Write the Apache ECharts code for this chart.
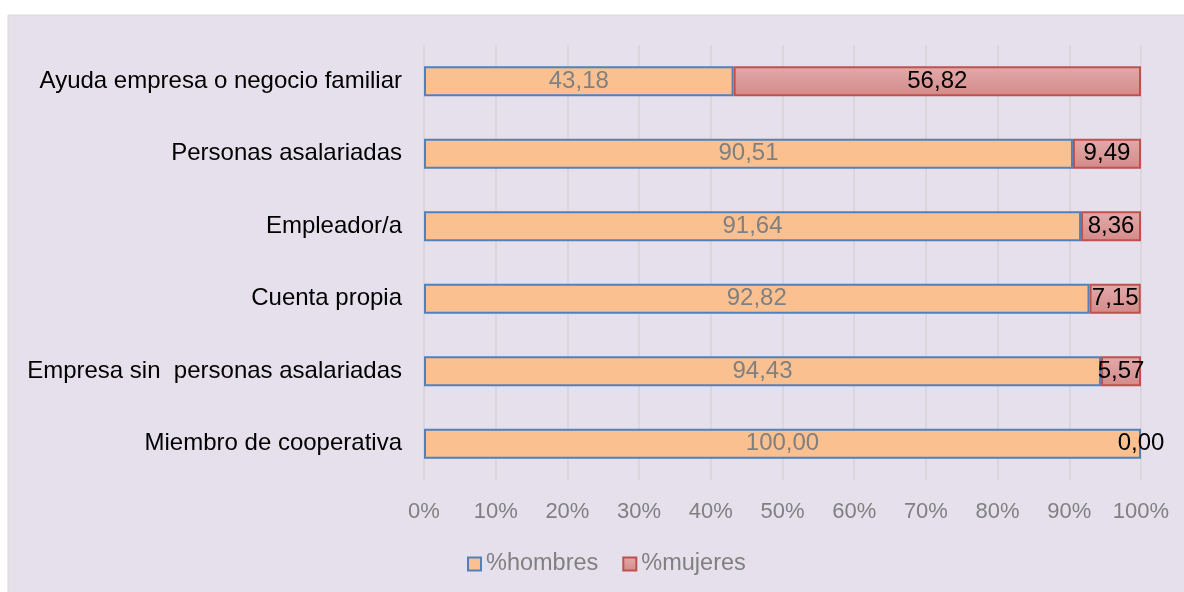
<!DOCTYPE html>
<html>
<head>
<meta charset="utf-8">
<script src="https://cdn.jsdelivr.net/npm/echarts@6/dist/echarts.min.js"></script>
<style>
  html, body { margin: 0; padding: 0; background: #ffffff; }
  #main { width: 1184px; height: 592px; }
</style>
</head>
<body>
<div id="main"></div>
<script>
// categorias, de arriba a abajo
var categorias = [
  'Ayuda empresa o negocio familiar',
  'Personas asalariadas',
  'Empleador/a',
  'Cuenta propia',
  'Empresa sin  personas asalariadas',
  'Miembro de cooperativa'
];
var hombres = [43.18, 90.51, 91.64, 92.82, 94.43, 100.00];
var mujeres = [56.82, 9.49, 8.36, 7.15, 5.57, 0.00];
var ticks = [0, 10, 20, 30, 40, 50, 60, 70, 80, 90, 100];

var myChart = echarts.init(document.getElementById('main'));

function coma(p) {
  return p.value.toFixed(2).replace('.', ',');
}

// barras de valor 0 sin borde
function sinBorde(arr) {
  return arr.map(function (v) {
    return v === 0 ? { value: v, itemStyle: { borderWidth: 0 } } : v;
  });
}

var fuente = '"Liberation Sans", Arial, sans-serif';

myChart.setOption({
  animation: false,
  textStyle: { fontFamily: fuente },
  graphic: [{
    type: 'rect',
    z: -10,
    shape: { x: 8, y: 15, width: 1180, height: 580 },
    style: { fill: '#E5E0EC', stroke: '#D9D9D9', lineWidth: 1 }
  }],
  grid: { left: 424, right: 43, top: 45, bottom: 112 },
  legend: {
    left: 462,
    top: 547,
    itemWidth: 13,
    itemHeight: 13,
    itemGap: 24,
    icon: 'rect',
    textStyle: { color: '#808080', fontSize: 23.5, fontFamily: fuente, padding: [0, 0, 0, 0] },
    data: ['%hombres', '%mujeres']
  },
  xAxis: {
    type: 'value',
    min: 0,
    max: 100,
    interval: 10,
    axisLine: { show: false },
    axisTick: { show: false },
    splitLine: { lineStyle: { color: '#D6D3DA', width: 1.5 } },
    axisLabel: {
      color: '#808080',
      fontSize: 22,
      margin: 21,
      formatter: function (v) { return ticks.indexOf(v) >= 0 ? v + '%' : ''; }
    }
  },
  yAxis: {
    type: 'category',
    inverse: true,
    data: categorias,
    axisLine: { show: false },
    axisTick: { show: false },
    axisLabel: { color: '#000000', fontSize: 24, margin: 22 }
  },
  series: [
    {
      name: '%hombres',
      type: 'bar',
      stack: 'total',
      barWidth: 30,
      data: sinBorde(hombres),
      itemStyle: { color: '#FAC090', borderColor: '#4F81BD', borderWidth: 2 },
      label: {
        show: true,
        position: 'inside',
        color: '#808080',
        fontSize: 24,
        formatter: coma
      }
    },
    {
      name: '%mujeres',
      type: 'bar',
      stack: 'total',
      barWidth: 30,
      data: sinBorde(mujeres),
      itemStyle: {
        color: new echarts.graphic.LinearGradient(0, 0, 0, 1, [
          { offset: 0, color: '#E2AAAA' },
          { offset: 1, color: '#D48A89' }
        ]),
        borderColor: '#C0504D',
        borderWidth: 2
      },
      label: {
        show: true,
        position: 'inside',
        color: '#000000',
        fontSize: 24,
        formatter: coma
      }
    }
  ]
});
</script>
</body>
</html>
